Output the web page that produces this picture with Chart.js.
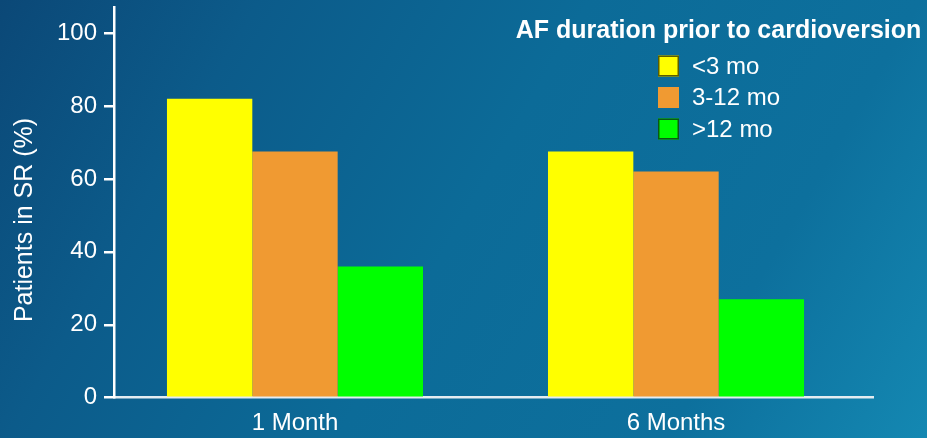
<!DOCTYPE html>
<html>
<head>
<meta charset="utf-8">
<script src="https://cdn.jsdelivr.net/npm/chart.js@4.4.0/dist/chart.umd.min.js"></script>
<style>
  html, body { margin: 0; padding: 0; }
  body {
    width: 927px; height: 438px; overflow: hidden;
    background: linear-gradient(120deg, #0b4877 0%, #0c5b8a 22%, #0c6b98 50%, #0d709d 78%, #1488b2 100%);
  }
  #wrap { position: relative; width: 927px; height: 438px; }
</style>
</head>
<body>
<div id="wrap"><canvas id="c" width="927" height="438"></canvas></div>
<script>
// Follow-up time points
const categories = ['1 Month', '6 Months'];
// Legend entries: AF duration before cardioversion
const seriesNames = ['<3 mo', '3-12 mo', '>12 mo'];
// Patients in sinus rhythm (%)
const under3mo = [82, 67.5];
const from3to12mo = [67.5, 62];
const over12mo = [36, 27];
const yTicks = [0, 20, 40, 60, 80, 100];

const legendTitle = 'AF duration prior to cardioversion';
const yTitle = 'Patients in SR (%)';
const FONT = '"Liberation Sans", Arial, Helvetica, sans-serif';

const toPoints = vals => vals.map((v, i) => ({ x: i, y: v }));

// Axis title and legend, drawn inside the plot on top of everything
const annotations = {
  id: 'annotations',
  afterDraw(chart, args, opts) {
    const ctx = chart.ctx;
    ctx.save();
    ctx.fillStyle = '#ffffff';
    ctx.textBaseline = 'middle';

    // rotated y axis title
    ctx.save();
    ctx.translate(opts.yTitleX, opts.yTitleY);
    ctx.rotate(-Math.PI / 2);
    ctx.textAlign = 'center';
    ctx.font = '25px ' + FONT;
    ctx.fillText(yTitle, 0, 0);
    ctx.restore();

    ctx.font = 'bold 25px ' + FONT;
    ctx.textAlign = 'center';
    ctx.fillText(legendTitle, opts.titleX, opts.titleY);
    ctx.font = '24px ' + FONT;
    ctx.textAlign = 'left';
    chart.data.datasets.forEach((ds, i) => {
      const cy = opts.firstY + i * opts.rowGap;
      const b = opts.box;
      ctx.fillStyle = ds.backgroundColor;
      ctx.fillRect(opts.boxX, cy - b / 2, b, b);
      if (ds.legendBorder) {
        ctx.strokeStyle = ds.legendBorder;
        ctx.lineWidth = 1.5;
        ctx.strokeRect(opts.boxX + 0.75, cy - b / 2 + 0.75, b - 1.5, b - 1.5);
      }
      ctx.fillStyle = '#ffffff';
      ctx.fillText(ds.label, opts.textX, cy + 1);
    });
    ctx.restore();
  }
};

new Chart(document.getElementById('c'), {
  type: 'bar',
  data: {
    datasets: [
      { label: seriesNames[0], data: toPoints(under3mo), backgroundColor: '#FFFF00', legendBorder: '#5c5c00' },
      { label: seriesNames[1], data: toPoints(from3to12mo), backgroundColor: '#F09A32' },
      { label: seriesNames[2], data: toPoints(over12mo), backgroundColor: '#00FF00', legendBorder: '#0b5a12' }
    ]
  },
  plugins: [annotations],
  options: {
    responsive: false,
    animation: false,
    events: [],
    layout: { padding: { top: 7.5, right: 54, bottom: 0, left: 0 } },
    datasets: { bar: { categoryPercentage: 0.672, barPercentage: 1.0, borderWidth: 0 } },
    plugins: {
      legend: { display: false },
      tooltip: { enabled: false },
      annotations: { yTitleX: 25, yTitleY: 220, titleX: 718.5, titleY: 31.5, boxX: 658, box: 21, textX: 692, firstY: 66, rowGap: 31.5 }
    },
    scales: {
      x: {
        type: 'linear',
        offset: false,
        bounds: 'data',
        min: -0.475,
        max: 1.517,
        afterBuildTicks(scale) { scale.ticks = categories.map((c, i) => ({ value: i })); },
        afterFit(scale) { scale.height = 40.3; },
        ticks: {
          color: '#ffffff',
          font: { family: FONT, size: 24 },
          padding: 11,
          maxRotation: 0,
          callback: v => categories[v]
        },
        grid: { display: true, drawOnChartArea: false, drawTicks: false, offset: false },
        border: { display: true, color: '#e4ecf1', width: 2.5 }
      },
      y: {
        min: 0,
        max: 107,
        afterBuildTicks(scale) { scale.ticks = yTicks.map(v => ({ value: v })); },
        afterFit(scale) { scale.width = 114; scale.paddingTop = 0; scale.paddingBottom = 0; },
        ticks: {
          color: '#ffffff',
          font: { family: FONT, size: 24 },
          padding: 7
        },
        grid: { display: true, drawOnChartArea: false, drawTicks: true, tickLength: 10, color: '#ffffff', lineWidth: 2.5 },
        border: { display: true, color: '#ffffff', width: 2.5 }
      }
    }
  }
});
</script>
</body>
</html>
